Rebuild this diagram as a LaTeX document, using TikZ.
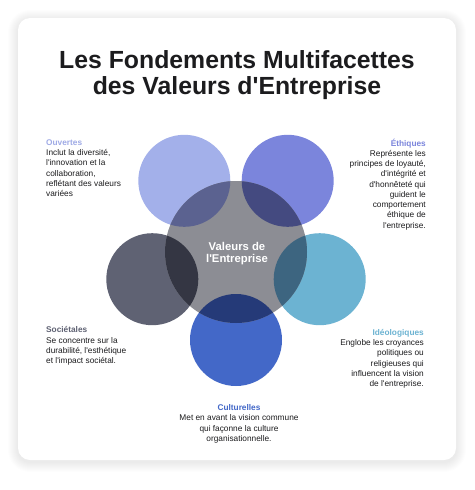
\documentclass[tikz,border=0pt]{standalone}
\usepackage{fontspec}
\setmainfont{Liberation Sans}[Ligatures=TeXOff]
\definecolor{cTL}{HTML}{A3B0EA}
\definecolor{cTR}{HTML}{7B85DC}
\definecolor{cR}{HTML}{6CB3D2}
\definecolor{cB}{HTML}{4368C8}
\definecolor{cL}{HTML}{5F6273}
\definecolor{cC}{HTML}{8C8D94}
\definecolor{oTL}{HTML}{5B6290}
\definecolor{oTR}{HTML}{444A80}
\definecolor{oR}{HTML}{3D6580}
\definecolor{oL}{HTML}{343643}
\definecolor{oB}{HTML}{253A78}
\definecolor{txt}{HTML}{1C1C1E}
\definecolor{hOuv}{HTML}{9FAAE6}
\tikzset{
  desc/.style={font=\fontsize{8.3}{10.25}\selectfont, text=txt, inner sep=0pt},
  title/.style={font=\fontsize{24.8}{26}\selectfont\bfseries, text=txt, align=center, inner sep=0pt},
}
\begin{document}
\begin{tikzpicture}[x=1pt,y=-1pt]
\useasboundingbox (0,0) rectangle (474,490);
\fill[white] (0,0) rectangle (474,490);
% shadow
\foreach \i in {1,...,10}{
  \fill[black, opacity=0.006, rounded corners=12+\i] (18-\i,18-\i+2) rectangle (456+\i,460+\i+2);
}
\fill[white, rounded corners=12] (18,18) rectangle (456,460);
% title
\node[title] (title) at (237,75) {Les Fondements Multifacettes\\des Valeurs d'Entreprise};
% circle centres
\coordinate (C) at (236,252);
\coordinate (pTL) at (184.3,180.8);
\coordinate (pTR) at (287.7,180.8);
\coordinate (pL) at (152.3,279.2);
\coordinate (pR) at (319.7,279.2);
\coordinate (pB) at (236,340);
\fill[cTL] (pTL) circle (46);
\fill[cTR] (pTR) circle (46);
\fill[cL] (pL) circle (46);
\fill[cR] (pR) circle (46);
\fill[cB] (pB) circle (46);
\fill[cC] (C) circle (71);
\begin{scope}\clip (pTL) circle (46); \fill[oTL] (C) circle (71);\end{scope}
\begin{scope}\clip (pTR) circle (46); \fill[oTR] (C) circle (71);\end{scope}
\begin{scope}\clip (pL) circle (46); \fill[oL] (C) circle (71);\end{scope}
\begin{scope}\clip (pR) circle (46); \fill[oR] (C) circle (71);\end{scope}
\begin{scope}\clip (pB) circle (46); \fill[oB] (C) circle (71);\end{scope}
\node[font=\fontsize{11.3}{12}\selectfont\bfseries, text=white, align=center, inner sep=0pt] (centre) at (237,254) {Valeurs de\\l'Entreprise};
% descriptions
\node[desc, align=left, anchor=north west] (ouv) at (46,139.5)
  {\textcolor{hOuv}{\bfseries Ouvertes}\\Inclut la diversité,\\l'innovation et la\\collaboration,\\reflétant des valeurs\\variées};
\node[desc, align=right, anchor=north east] (eth) at (426,138.5)
  {\textcolor{cTR}{\bfseries Éthiques}\\Représente les\\principes de loyauté,\\d'intégrité et\\d'honnêteté qui\\guident le\\comportement\\éthique de\\l'entreprise.};
\node[desc, align=left, anchor=north west] (soc) at (46,326.5)
  {\textcolor{cL}{\bfseries Sociétales}\\Se concentre sur la\\durabilité, l'esthétique\\et l'impact sociétal.};
\node[desc, align=right, anchor=north east] (ideo) at (424,329)
  {\textcolor{cR}{\bfseries Idéologiques}\\Englobe les croyances\\politiques ou\\religieuses qui\\influencent la vision\\de l'entreprise.};
\node[desc, align=center, anchor=north] (cult) at (239,404.5)
  {\textcolor{cB}{\bfseries Culturelles}\\Met en avant la vision commune\\qui façonne la culture\\organisationnelle.};
\end{tikzpicture}
\end{document}
